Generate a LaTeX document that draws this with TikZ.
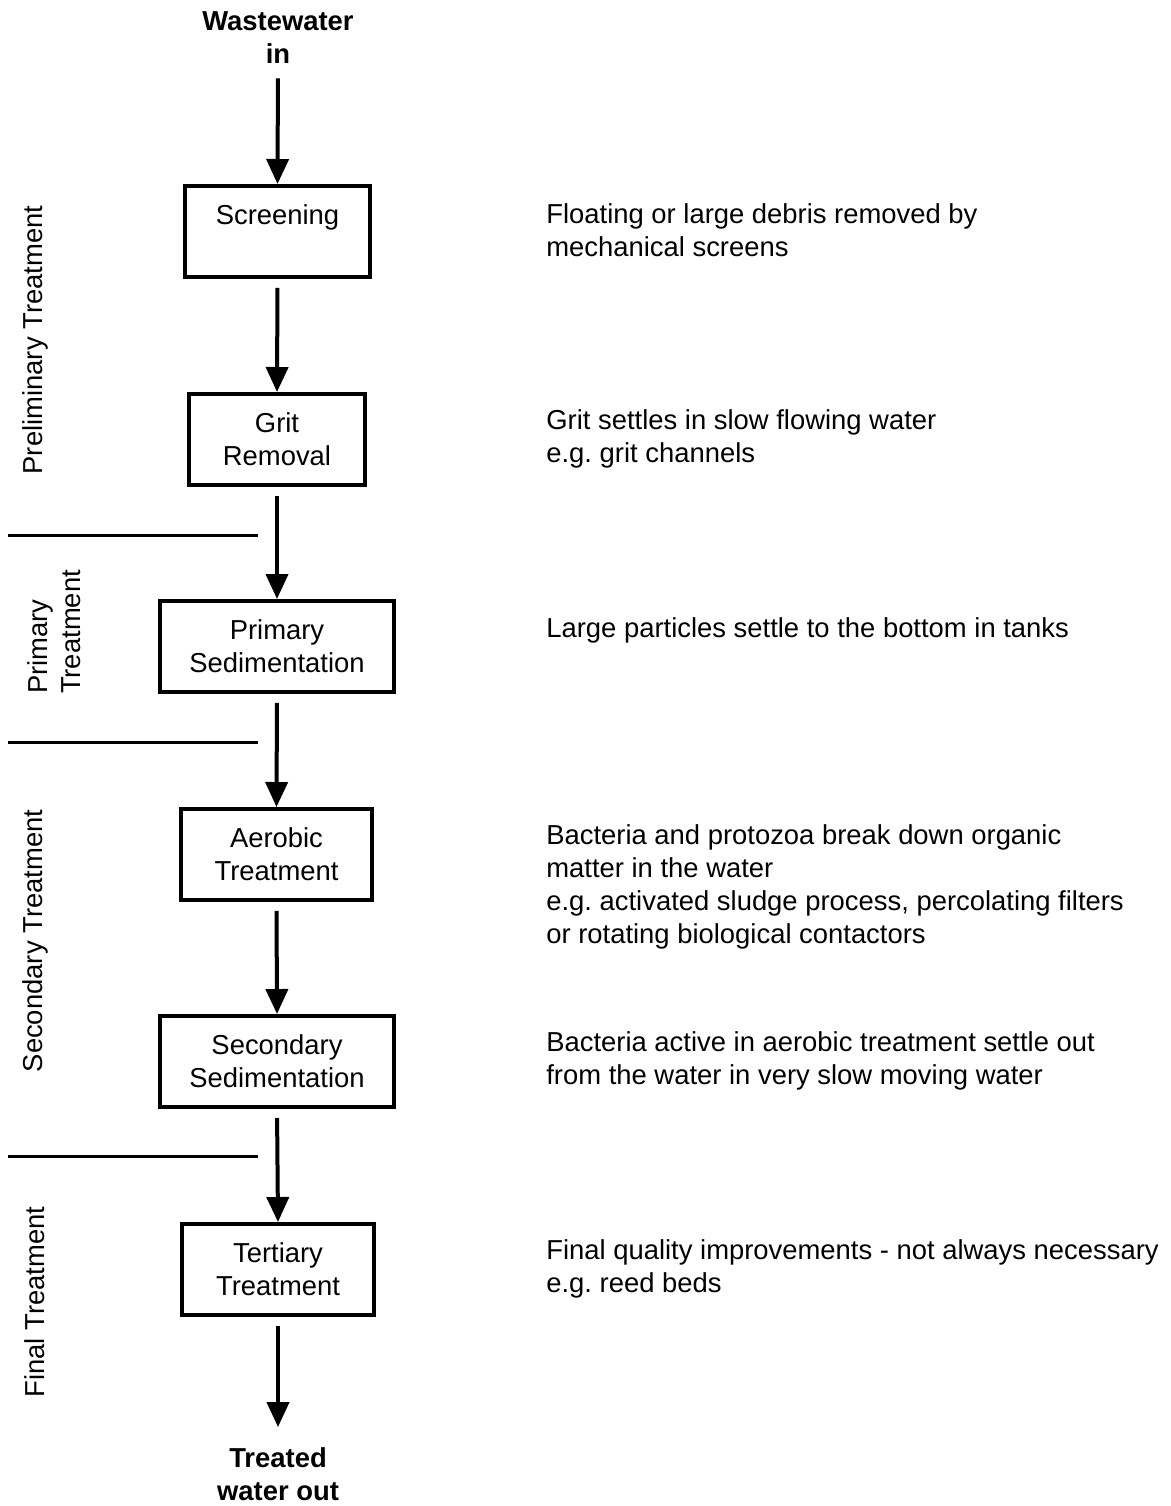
\documentclass[tikz,border=0pt]{standalone}
\usepackage{fontspec}
\setmainfont{Liberation Sans}
\usetikzlibrary{positioning}
\usetikzlibrary{arrows.meta}
\frenchspacing

\begin{document}
\begin{tikzpicture}[x=0.02cm, y=-0.02cm,
  every node/.style={font=\fontsize{15.6}{18.8}\selectfont},
  stage/.style={draw, line width=0.08cm, align=center, minimum height=1.82cm, inner sep=0pt},
  flow/.style={line width=0.08cm, -{Triangle[length=0.5cm, width=0.44cm]}},
  divider/.style={line width=0.06cm},
  note/.style={anchor=west, align=left, inner sep=0pt},
  phase/.style={rotate=90, align=left, inner sep=0pt}]
\useasboundingbox (0,0) rectangle (1170,1506);

% in and out
\node[align=center, inner sep=0pt, font=\fontsize{15.6}{18.8}\selectfont\bfseries] (win) at (278,38) {Wastewater\\in};
\node[align=center, inner sep=0pt, font=\fontsize{15.6}{18.8}\selectfont\bfseries] (wout) at (278,1474) {Treated\\water out};

% treatment stages
\node[stage, minimum width=3.70cm] (scr) at (277.5,231.5) {Screening\\\mbox{}};
\node[stage, minimum width=3.52cm] (grit) at (277,439.5) {Grit\\Removal};
\node[stage, minimum width=4.68cm] (psed) at (277,646.5) {Primary\\Sedimentation};
\node[stage, minimum width=3.82cm] (aer) at (276.5,854.5) {Aerobic\\Treatment};
\node[stage, minimum width=4.68cm] (ssed) at (277,1061.5) {Secondary\\Sedimentation};
\node[stage, minimum width=3.84cm] (tert) at (278,1269.5) {Tertiary\\Treatment};

\draw[flow, shorten <=0.28cm] (win.south) -- (scr.north);
\draw[flow, shorten <=0.18cm] (scr.south) -- (grit.north);
\draw[flow, shorten <=0.18cm] (grit.south) -- (psed.north);
\draw[flow, shorten <=0.18cm] (psed.south) -- (aer.north);
\draw[flow, shorten <=0.18cm] (aer.south) -- (ssed.north);
\draw[flow, shorten <=0.18cm] (ssed.south) -- (tert.north);
\draw[flow, shorten <=0.18cm, shorten >=0.4cm] (tert.south) -- (wout.north);

% phase dividers
\draw[divider] (8,535) -- (258,535);
\draw[divider] (8,742) -- (258,742);
\draw[divider] (8,1156) -- (258,1156);

\node[phase] (prelim) at (35,340) {Preliminary Treatment};
\node[phase] (prim) at (54,632) {Primary\\Treatment};
\node[phase] (sec) at (35,941) {Secondary Treatment};
\node[phase] (fin) at (35,1302) {Final Treatment};

% descriptions
\node[note] (dscr) at (546,230.5) {Floating or large debris removed by\\mechanical screens};
\node[note] (dgrit) at (546,438.5) {Grit settles in slow flowing water\\e.g. grit channels};
\node[note] (dpsed) at (546,630) {Large particles settle to the bottom in tanks};
\node[note] (daer) at (546,886.5) {Bacteria and protozoa break down organic\\matter in the water\\e.g. activated sludge process, percolating filters\\or rotating biological contactors};
\node[note] (dssed) at (546,1060.5) {Bacteria active in aerobic treatment settle out\\from the water in very slow moving water};
\node[note] (dtert) at (546,1268.5) {Final quality improvements - not always necessary\\e.g. reed beds};

\end{tikzpicture}
\end{document}
